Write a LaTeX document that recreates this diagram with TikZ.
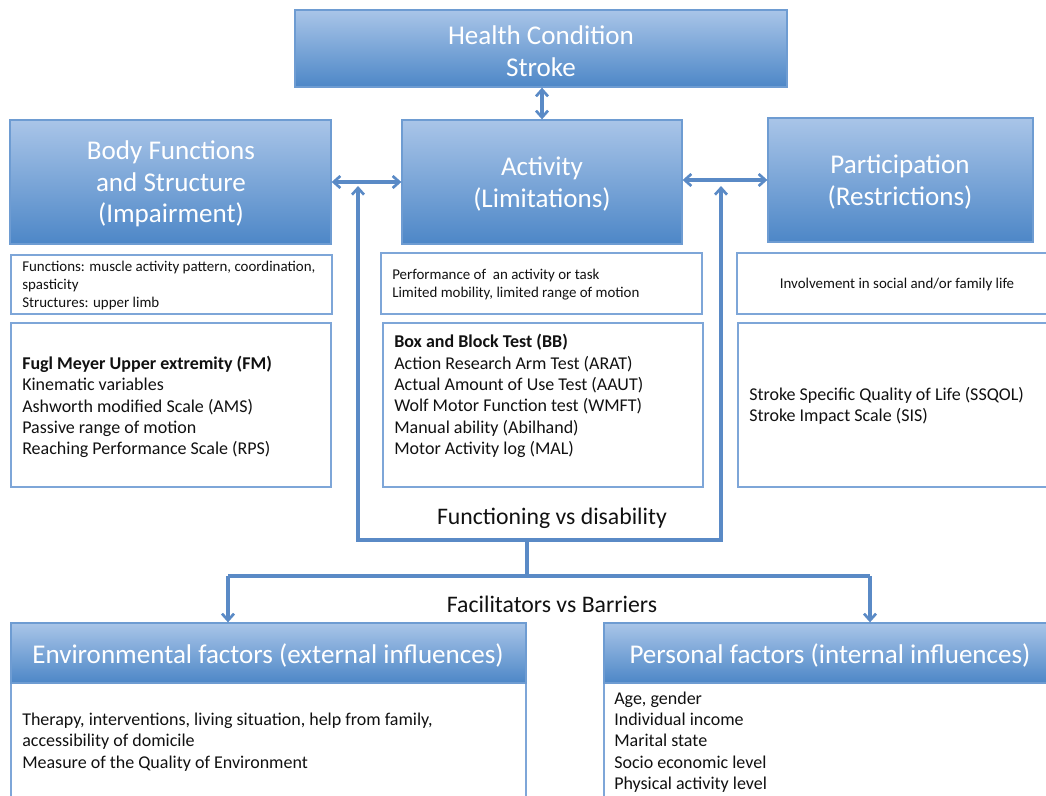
\documentclass[tikz,border=0pt]{standalone}
\usepackage{fontspec}
\setmainfont{Carlito}
\usetikzlibrary{arrows.meta,fit}
\definecolor{gtop}{HTML}{A9C5E8}
\definecolor{gbot}{HTML}{4D87C7}
\definecolor{hborder}{HTML}{6E9CD2}
\definecolor{sborder}{HTML}{7EA6D8}
\definecolor{conn}{HTML}{5A8AC6}
\definecolor{txt}{HTML}{111111}
\tikzset{
  hdr/.style={draw=hborder, line width=1pt, top color=gtop, bottom color=gbot, inner sep=0pt},
  ttl/.style={inner sep=0pt, text=white, align=center, font=\fontsize{20.3}{23.6}\selectfont},
  sub/.style={draw=sborder, line width=1pt, fill=white, inner sep=0pt},
  small/.style={inner sep=0pt, align=left, text=txt, font=\fontsize{11.2}{13.5}\selectfont, anchor=west},
  med/.style={inner sep=0pt, align=left, text=txt, font=\fontsize{13.5}{16}\selectfont, anchor=west},
  lbl/.style={inner sep=0pt, text=txt, font=\fontsize{17.8}{20}\selectfont},
  link/.style={draw=conn, line width=2.4pt},
  arr/.style={link, -{Straight Barb[length=5pt,width=9pt,line width=2pt]}},
  darr/.style={link, {Straight Barb[length=5pt,width=9pt,line width=2pt]}-{Straight Barb[length=5pt,width=9pt,line width=2pt]}},
}
\begin{document}
\begin{tikzpicture}[x=0.75pt,y=-0.75pt]
\useasboundingbox (0,0) rectangle (1046,796);
% header boxes
\node[hdr, fit={(295,10)(787,87)}] (hc) {};
\node[hdr, fit={(10,120)(331,244)}] (body) {};
\node[hdr, fit={(402,120)(682,244)}] (act) {};
\node[hdr, fit={(768,118)(1033,242)}] (part) {};
\node[ttl] (hct) at (541,51) {Health Condition\\Stroke};
\node[ttl] (bodyt) at (171,184) {Body Functions\\and Structure\\(Impairment)};
\node[ttl] (actt) at (542,184) {Activity\\(Limitations)};
\node[ttl] (partt) at (900,182) {Participation\\(Restrictions)};
% sub boxes
\node[sub, fit={(11,255)(332,314)}] (b1) {};
\node[sub, fit={(11,323)(331,487)}] (b2) {};
\node[sub, fit={(381,253)(702,314)}] (a1) {};
\node[sub, fit={(383,323)(703,487)}] (a2) {};
\node[sub, fit={(737,253)(1052,314)}] (p1) {};
\node[sub, fit={(738,323)(1052,487)}] (p2) {};
% bottom boxes
\node[sub, fit={(11,683)(526,806)}] (envb) {};
\node[sub, fit={(604,683)(1052,806)}] (perb) {};
\node[hdr, fit={(11,623)(526,683)}] (env) {};
\node[hdr, fit={(604,623)(1052,683)}] (per) {};
\node[ttl] (envt0) at (268,655) {Environmental factors (external influences)};
\node[ttl] (pert0) at (830,655) {Personal factors (internal influences)};
% texts
\node[small] (b1t) at (22,286) {Functions: muscle activity pattern, coordination,\\spasticity\\Structures: upper limb};
\node[med] (b2t) at (22,407) {\textbf{Fugl Meyer Upper extremity (FM)}\\Kinematic variables\\Ashworth modified Scale (AMS)\\Passive range of motion\\Reaching Performance Scale (RPS)};
\node[small] (a1t) at (392,285) {Performance of \ an activity or task\\Limited mobility, limited range of motion};
\node[med] (a2t) at (394,396) {\textbf{Box and Block Test (BB)}\\Action Research Arm Test (ARAT)\\Actual Amount of Use Test (AAUT)\\Wolf Motor Function test (WMFT)\\Manual ability (Abilhand)\\Motor Activity log (MAL)};
\node[small, anchor=center] (p1t) at (897,285) {Involvement in social and/or family life};
\node[med] (p2t) at (749,406) {Stroke Specific Quality of Life (SSQOL)\\Stroke Impact Scale (SIS)};
\node[med] (envt) at (22,742) {Therapy, interventions, living situation, help from family,\\accessibility of domicile\\Measure of the Quality of Environment};
\node[med] (pert2) at (614,742) {Age, gender\\Individual income\\Marital state\\Socio economic level\\Physical activity level};
\node[lbl] (fvd) at (552,518) {Functioning vs disability};
\node[lbl] (fvb) at (552,604) {Facilitators vs Barriers};
% coordinates
\coordinate (fl) at (358,540);
\coordinate (fr) at (721,540);
\coordinate (flt) at (358,186);
\coordinate (frt) at (721,186);
\coordinate (fm) at (527,540);
\coordinate (hm) at (527,576);
\coordinate (hl) at (228,576);
\coordinate (hr) at (870,576);
% connectors
\draw[darr] (hc.south -| act.north) -- (act.north);
\draw[darr] (body.east) -- (body.east -| act.west);
\draw[darr] (act.east |- part.west) -- (part.west);
\draw[arr] (fl) -- (flt);
\draw[arr] (fr) -- (frt);
\draw[link, line cap=rect] (fl) -- (fr);
\draw[link] (fm) -- (hm);
\draw[link] (hl) -- (hr);
\draw[arr] (hl) -- (hl |- env.north);
\draw[arr] (hr) -- (hr |- per.north);
\end{tikzpicture}
\end{document}
